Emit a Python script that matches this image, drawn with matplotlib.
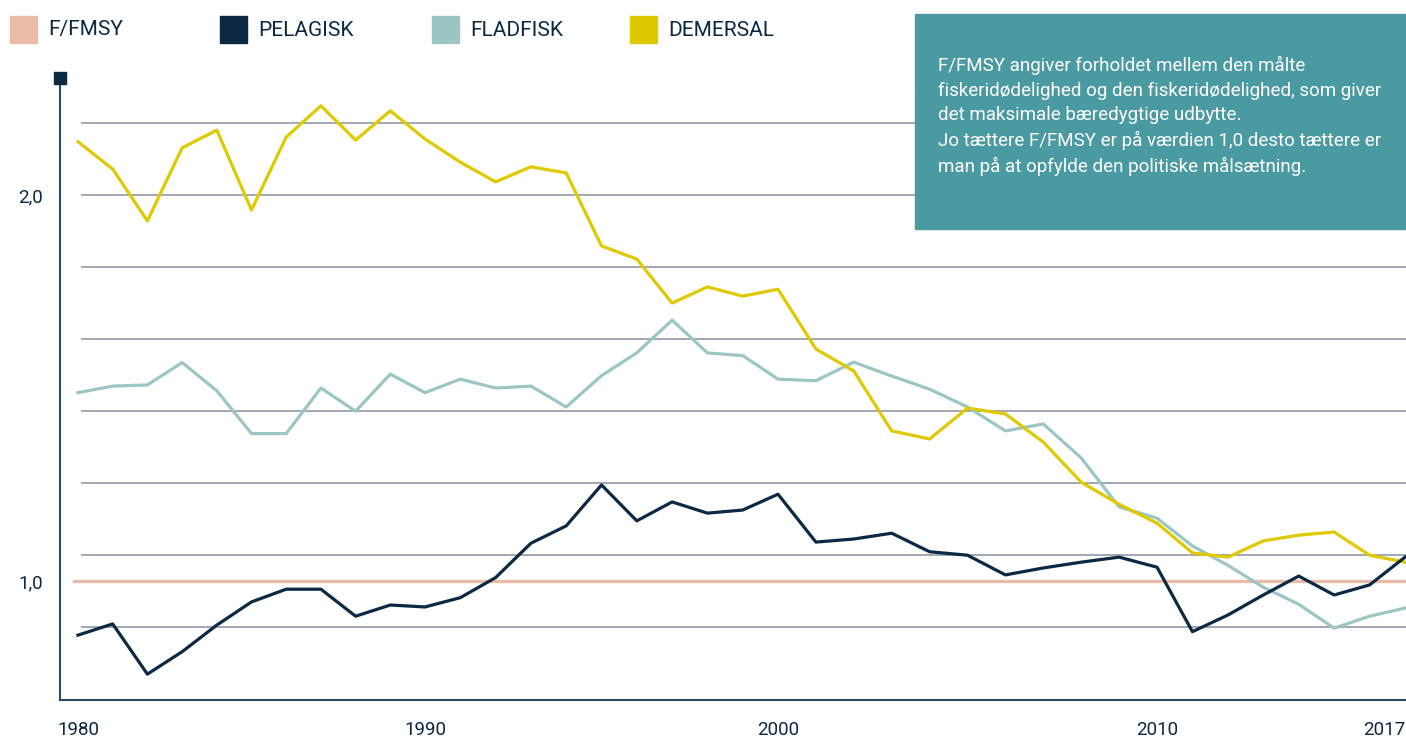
import numpy as np
import matplotlib.pyplot as plt
from matplotlib.patches import Rectangle

plt.rcParams['font.family'] = ['Roboto', 'DejaVu Sans']

years = list(range(1980, 2018))

pelagisk = [0.860, 0.889, 0.759, 0.817, 0.886, 0.946, 0.979, 0.979, 0.909, 0.938,
            0.933, 0.957, 1.009, 1.098, 1.143, 1.249, 1.156, 1.205, 1.176, 1.184,
            1.225, 1.101, 1.109, 1.124, 1.076, 1.067, 1.016, 1.034, 1.049, 1.062,
            1.036, 0.869, 0.912, 0.964, 1.013, 0.964, 0.990, 1.062]

fladfisk = [1.488, 1.505, 1.508, 1.566, 1.493, 1.382, 1.382, 1.500, 1.440, 1.536,
            1.488, 1.523, 1.500, 1.505, 1.451, 1.532, 1.591, 1.676, 1.591, 1.584,
            1.523, 1.519, 1.567, 1.531, 1.497, 1.451, 1.389, 1.407, 1.319, 1.192,
            1.163, 1.091, 1.041, 0.984, 0.940, 0.878, 0.909, 0.930]

demersal = [2.138, 2.067, 1.933, 2.122, 2.168, 1.961, 2.150, 2.231, 2.142, 2.218,
            2.145, 2.085, 2.034, 2.073, 2.057, 1.868, 1.834, 1.720, 1.762, 1.738,
            1.756, 1.601, 1.544, 1.389, 1.368, 1.448, 1.433, 1.360, 1.256, 1.199,
            1.150, 1.073, 1.062, 1.104, 1.119, 1.127, 1.067, 1.049]

fmsy = 1.0

legend_labels = ['F/FMSY', 'PELAGISK', 'FLADFISK', 'DEMERSAL']
x_ticks = [1980, 1990, 2000, 2010, 2017]
y_ticks = [1.0, 2.0]
y_ticklabels = ['1,0', '2,0']

note = ("F/FMSY angiver forholdet mellem den målte\n"
        "fiskeridødelighed og den fiskeridødelighed, som giver\n"
        "det maksimale bæredygtige udbytte.\n"
        "Jo tættere F/FMSY er på værdien 1,0 desto tættere er\n"
        "man på at opfylde den politiske målsætning.")

c_fmsy = '#e8bca6'
c_pel = '#0b2942'
c_flad = '#9cc6c3'
c_dem = '#dfc900'
c_box = '#4a9aa2'
c_axis = '#2e4a60'
c_grid = '#a3a7b6'

# the original year axis is not evenly spaced per decade
knot_years = [1979, 1980, 1990, 2000, 2010, 2017, 2018]
knot_pos = [43.3, 78, 425, 778, 1157, 1405, 1440.4]


def fwd(x):
    return np.interp(x, knot_years, knot_pos)


def inv(p):
    return np.interp(p, knot_pos, knot_years)


W, H = 1406, 737
fig = plt.figure(figsize=(W / 100, H / 100), dpi=100)
ax = fig.add_axes([60 / W, 37 / H, 1346 / W, 622 / H])

ax.set_xscale('function', functions=(fwd, inv))
ax.set_xlim(inv(60), inv(1406))
ax.set_ylim(0.692, 2.303)

# grid lines sit at an odd step in the original
for g in 2.0 - 0.1866 * np.arange(-1, 7):
    ax.axhline(g, xmin=22 / 1346, xmax=1, color=c_grid, lw=1.4, zorder=1)

ax.axhline(fmsy, xmin=14 / 1346, xmax=1, color=c_fmsy, lw=2.4, zorder=2)
ax.plot(years, fladfisk, color=c_flad, lw=2.3, zorder=3)
ax.plot(years, demersal, color=c_dem, lw=2.3, zorder=3)
ax.plot(years, pelagisk, color=c_pel, lw=2.3, zorder=4)

for s in ['top', 'right']:
    ax.spines[s].set_visible(False)
for s in ['left', 'bottom']:
    ax.spines[s].set_color(c_axis)
    ax.spines[s].set_linewidth(1.5)
ax.plot([inv(60)], [2.303], marker='s', ms=8, color=c_pel, clip_on=False, zorder=5)

ax.set_xticks(x_ticks)
ax.set_xticklabels([str(y) for y in x_ticks])
ax.set_xticks([], minor=True)
ax.set_yticks(y_ticks)
ax.set_yticklabels(y_ticklabels)
ax.tick_params(axis='both', length=0, colors=c_pel, labelsize=13.5)
ax.tick_params(axis='x', pad=15)
ax.tick_params(axis='y', pad=12)
ax.get_xticklabels()[-1].set_ha('right')

# legend row along the top
leg_x = [10, 220, 432, 630]
for lab, col, x0 in zip(legend_labels, [c_fmsy, c_pel, c_flad, c_dem], leg_x):
    fig.add_artist(Rectangle((x0 / W, 1 - 43 / H), 27 / W, 27 / H, color=col,
                             transform=fig.transFigure, zorder=5))
    fig.text((x0 + 38) / W, 1 - 30 / H, lab, fontsize=15, color=c_pel,
             va='center', ha='left', zorder=6)

# explanation box
fig.add_artist(Rectangle((915 / W, 1 - 229 / H), 491 / W, 215 / H, color=c_box,
                         transform=fig.transFigure, zorder=5))
fig.text(938 / W, 1 - 56 / H, note, fontsize=13.5, color='white', va='top', ha='left',
         linespacing=1.45, zorder=6)

fig.savefig('out.png', dpi=100)
